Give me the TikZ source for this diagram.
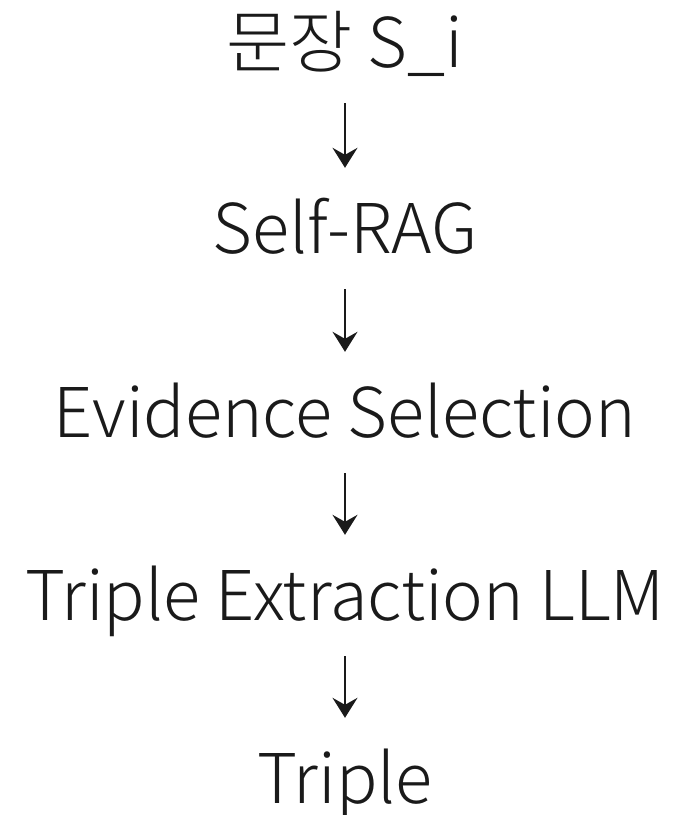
\documentclass[tikz,border=0pt]{standalone}
\usepackage{fontspec}
\setmainfont{Noto Sans CJK KR}[UprightFont=* Light]
\usetikzlibrary{arrows.meta}
\definecolor{ink}{HTML}{1A1A1A}
\tikzset{
  line/.style={anchor=base, inner sep=0pt, text=ink, font=\fontsize{68.6}{80}\selectfont,
    text height=52pt, text depth=16pt},
  flow/.style={draw=ink, line width=1.8pt, shorten <=20pt, shorten >=33pt,
    -{Stealth[length=20pt, width=25pt, inset=7pt]}}
}
\begin{document}
\begin{tikzpicture}[x=1pt,y=1pt]
\useasboundingbox (0,0) rectangle (677,-815);

\node[line] (sent) at (345,-67) {문장 S\_i};
\node[line] (srag) at (345,-253) {Self-RAG};
\node[line] (evid) at (345,-437) {Evidence Selection};
\node[line] (extr) at (345,-620) {Triple Extraction LLM};
\node[line] (trip) at (345,-803) {Triple};

\draw[flow] (sent) -- (srag);
\draw[flow] (srag) -- (evid);
\draw[flow] (evid) -- (extr);
\draw[flow] (extr) -- (trip);
\end{tikzpicture}
\end{document}
